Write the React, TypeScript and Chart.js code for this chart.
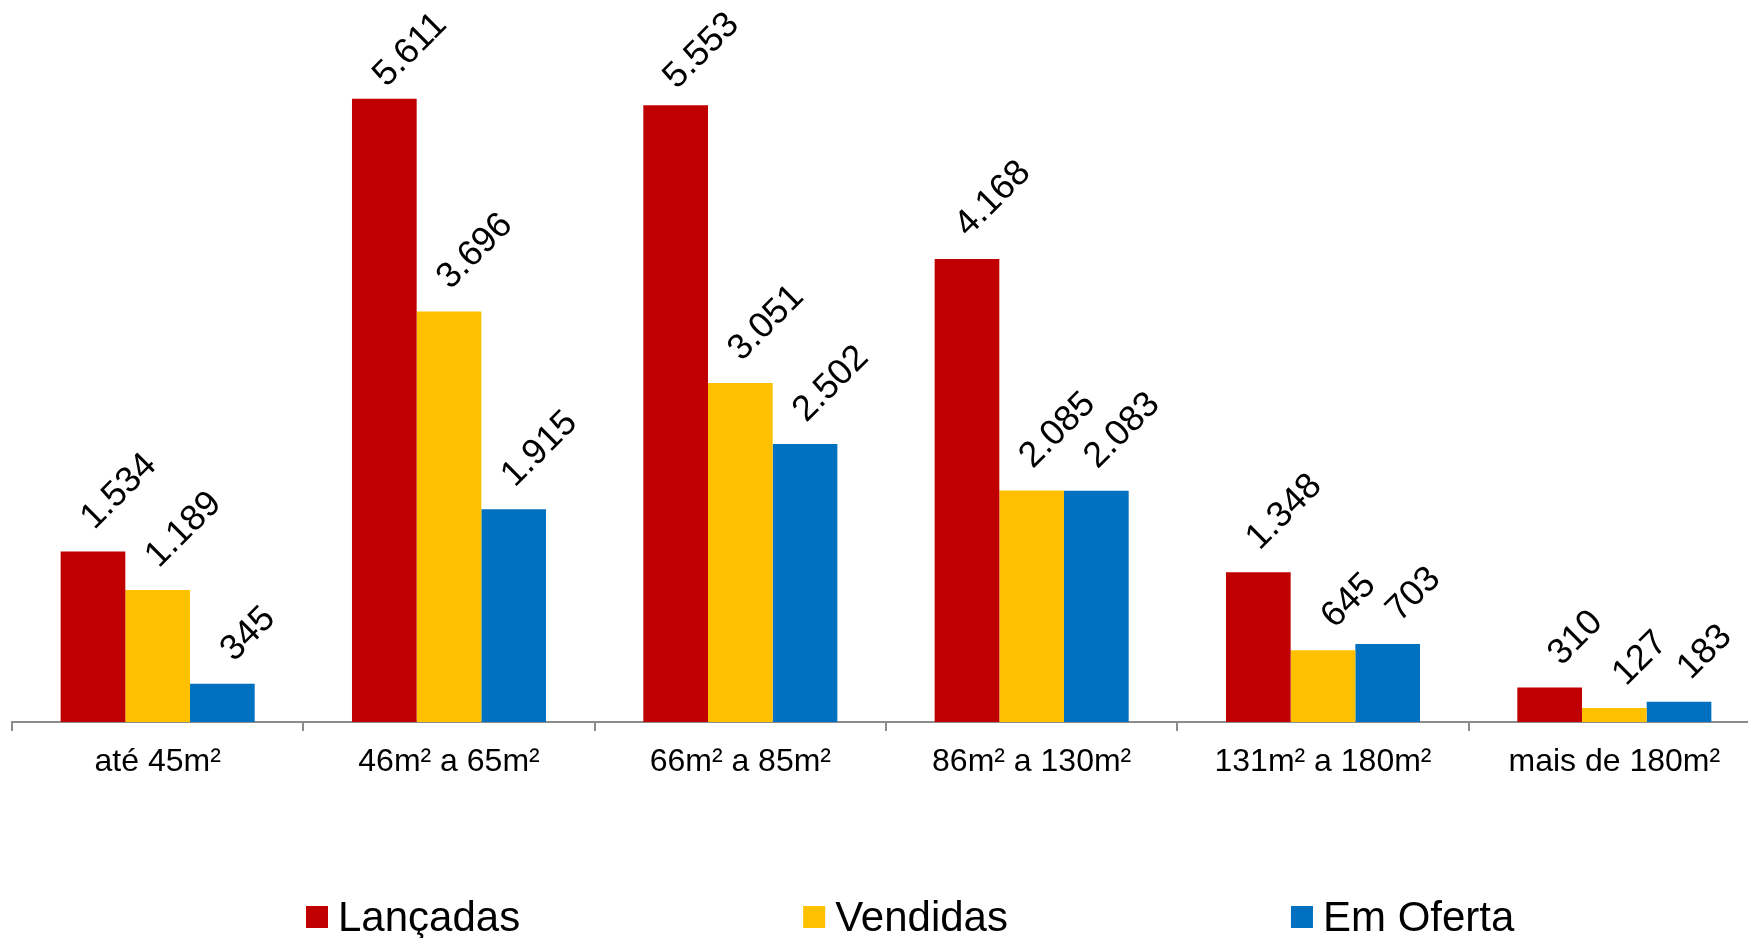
import React, { useEffect, useRef } from "react";
import { Chart, registerables } from "chart.js";

Chart.register(...registerables);

const categories = ["até 45m²", "46m² a 65m²", "66m² a 85m²", "86m² a 130m²", "131m² a 180m²", "mais de 180m²"];
const seriesNames = ["Lançadas", "Vendidas", "Em Oferta"];
const lancadas = [1534, 5611, 5553, 4168, 1348, 310];
const vendidas = [1189, 3696, 3051, 2085, 645, 127];
const emOferta = [345, 1915, 2502, 2083, 703, 183];
const colors = ["#C00000", "#FFC000", "#0070C0"];
const yMax = 6500;

const FONT = '"Liberation Sans", Arial, sans-serif';

function fmt(v: number): string {
  return String(v).replace(/\B(?=(\d{3})+(?!\d))/g, ".");
}

const labelPlugin = {
  id: "rotLabels",
  afterDatasetsDraw(chart: any) {
    const ctx = chart.ctx;
    ctx.save();
    ctx.font = `36px ${FONT}`;
    ctx.fillStyle = "#000";
    ctx.textAlign = "center";
    ctx.textBaseline = "middle";
    chart.data.datasets.forEach((ds: any, di: number) => {
      const meta = chart.getDatasetMeta(di);
      meta.data.forEach((bar: any, i: number) => {
        const text = fmt(ds.data[i]);
        const w = ctx.measureText(text).width;
        const half = (w + 26) / (2 * Math.SQRT2);
        let cy = bar.y - 19 - half;
        cy = Math.max(cy, 10 + half);
        const cx = bar.x + 26;
        ctx.save();
        ctx.translate(cx, cy);
        ctx.rotate(-Math.PI / 4);
        ctx.fillText(text, 0, 0);
        ctx.restore();
      });
    });
    ctx.restore();
  },
};

const legendPlugin = {
  id: "customLegend",
  afterDraw(chart: any) {
    const ctx = chart.ctx;
    ctx.save();
    ctx.font = `42px ${FONT}`;
    ctx.textAlign = "left";
    ctx.textBaseline = "alphabetic";
    let x = 306;
    const box = 22;
    const centerY = 917;
    chart.data.datasets.forEach((ds: any) => {
      ctx.fillStyle = ds.backgroundColor;
      ctx.fillRect(x, centerY - box / 2, box, box);
      ctx.fillStyle = "#000";
      ctx.fillText(ds.label, x + box + 10, 931);
      x += box + 10 + ctx.measureText(ds.label).width + 283;
    });
    ctx.restore();
  },
};

export default function App() {
  const ref = useRef<HTMLCanvasElement>(null);
  useEffect(() => {
    if (!ref.current) return;
    const seriesValues = [lancadas, vendidas, emOferta];
    const chart = new Chart(ref.current, {
      type: "bar",
      data: {
        labels: categories,
        datasets: seriesNames.map((name, i) => ({
          label: name,
          data: seriesValues[i],
          backgroundColor: colors[i],
          borderWidth: 0,
          categoryPercentage: 0.666,
          barPercentage: 1,
        })),
      },
      options: {
        animation: false,
        responsive: false,
        maintainAspectRatio: false,
        devicePixelRatio: 1,
        layout: { padding: { left: 12, right: 1, top: 0, bottom: 144.6 } },
        plugins: {
          legend: { display: false },
          tooltip: { enabled: false },
        },
        scales: {
          x: {
            offset: true,
            grid: {
              display: true,
              offset: true,
              drawOnChartArea: false,
              drawTicks: true,
              tickLength: 9,
              color: "#8c8c8c",
              lineWidth: 2,
            },
            border: { display: true, color: "#8c8c8c", width: 2 },
            ticks: {
              color: "#000",
              font: { family: FONT, size: 32 },
              padding: 12,
              maxRotation: 0,
              minRotation: 0,
              autoSkip: false,
            },
          },
          y: {
            display: false,
            min: 0,
            max: yMax,
          },
        },
      },
      plugins: [labelPlugin, legendPlugin],
    });
    return () => chart.destroy();
  }, []);
  return (
    <div
      style={{
        position: "fixed",
        left: 0,
        top: 0,
        width: 1748,
        height: 938,
        overflow: "hidden",
        background: "#fff",
      }}
    >
      <canvas ref={ref} width={1761} height={938} style={{ display: "block" }} />
    </div>
  );
}
